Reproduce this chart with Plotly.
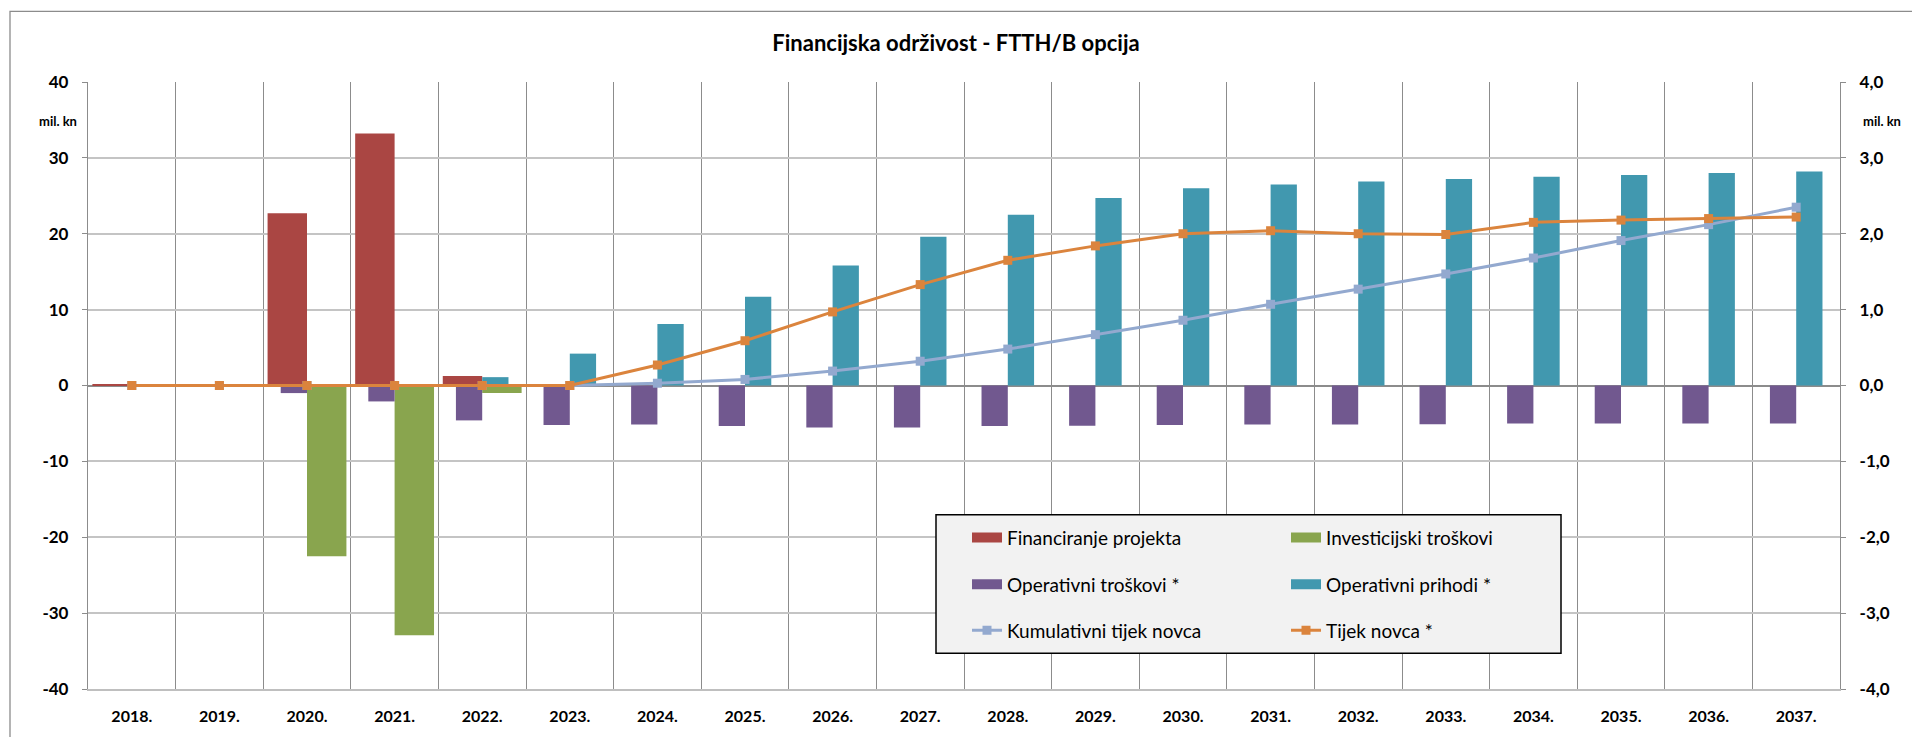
import plotly.graph_objects as go

# Years and series (mil. kn)
years = ["2018.", "2019.", "2020.", "2021.", "2022.", "2023.", "2024.", "2025.", "2026.", "2027.",
         "2028.", "2029.", "2030.", "2031.", "2032.", "2033.", "2034.", "2035.", "2036.", "2037."]

financiranje = [0.15, 0, 22.7, 33.2, 1.25, 0, 0, 0, 0, 0,
                0, 0, 0, 0, 0, 0, 0, 0, 0, 0]
investicijski = [0, 0, -22.5, -32.9, -1.0, 0, 0, 0, 0, 0,
                 0, 0, 0, 0, 0, 0, 0, 0, 0, 0]
op_troskovi = [0, 0, -1.0, -2.1, -4.6, -5.2, -5.15, -5.35, -5.55, -5.55,
               -5.35, -5.3, -5.2, -5.15, -5.15, -5.1, -5.0, -5.0, -5.0, -5.0]
op_prihodi = [0, 0, 0, 0, 1.1, 4.2, 8.1, 11.7, 15.8, 19.6,
              22.5, 24.7, 26.0, 26.5, 26.9, 27.2, 27.5, 27.75, 28.0, 28.2]
tijek_novca = [0, 0, 0, 0, 0, 0, 2.7, 5.9, 9.7, 13.3,
               16.5, 18.4, 20.0, 20.4, 20.0, 19.9, 21.5, 21.8, 22.0, 22.2]
kumulativ = [0, 0, 0, 0, 0, 0, 0.03, 0.08, 0.19, 0.32,
             0.48, 0.67, 0.86, 1.07, 1.27, 1.47, 1.68, 1.91, 2.12, 2.35]

left_ticks = [-40, -30, -20, -10, 0, 10, 20, 30, 40]
left_labels = ["-40", "-30", "-20", "-10", "0", "10", "20", "30", "40"]
right_ticks = [-4, -3, -2, -1, 0, 1, 2, 3, 4]
right_labels = ["-4,0", "-3,0", "-2,0", "-1,0", "0,0", "1,0", "2,0", "3,0", "4,0"]

RED, GREEN, PURPLE, TEAL = "#AA4643", "#89A54E", "#71588F", "#4198AF"
LIGHTBLUE, ORANGE = "#93A9CF", "#DB843D"
FONT = "Lato"

W, H = 1912, 737
L, R, T, B = 88, 72, 82, 45
PW, PH = W - L - R, H - T - B


def px_x(x):
    return (x - L) / PW


def px_y(y):
    return (H - B - y) / PH


fig = go.Figure()

# Column series: (values, name, colour, offset, width, legend row)
bar_series = [
    (financiranje, "Financiranje projekta", RED, -0.45, 0.45, "legend"),
    (investicijski, "Investicijski troškovi", GREEN, 0.0, 0.45, "legend"),
    (op_troskovi, "Operativni troškovi *", PURPLE, -0.3, 0.3, "legend2"),
    (op_prihodi, "Operativni prihodi *", TEAL, 0.0, 0.3, "legend2"),
]
for values, name, color, off, wid, leg in bar_series:
    fig.add_trace(go.Bar(x=years, y=values, name=name, legendgroup=name,
                         marker=dict(color=color, line=dict(width=0)),
                         offset=off, width=wid, showlegend=False))
    # wide flat swatch for the legend key
    fig.add_trace(go.Scatter(x=[None], y=[None], name=name, legendgroup=name,
                             mode="lines", line=dict(color=color, width=11),
                             legend=leg, hoverinfo="skip"))

# Cumulative flow on the right-hand scale
fig.add_trace(go.Scatter(x=years, y=kumulativ, name="Kumulativni tijek novca",
                         mode="lines+markers", yaxis="y2",
                         line=dict(color=LIGHTBLUE, width=3),
                         marker=dict(symbol="square", size=9, color=LIGHTBLUE),
                         legend="legend3"))
# Annual flow on the left-hand scale, drawn on top (separate overlay axis)
fig.add_trace(go.Scatter(x=years, y=tijek_novca, name="Tijek novca *",
                         mode="lines+markers", yaxis="y3",
                         line=dict(color=ORANGE, width=3),
                         marker=dict(symbol="square", size=9, color=ORANGE),
                         legend="legend3"))

legend_common = dict(orientation="h", xanchor="left", yanchor="middle",
                     bgcolor="rgba(0,0,0,0)", borderwidth=0,
                     entrywidth=274, entrywidthmode="pixels",
                     font=dict(family=FONT, size=19, color="#000000"),
                     x=px_x(967))

tick_font = dict(family=FONT, size=17, color="#000000", weight="bold")

fig.update_layout(
    width=W, height=H,
    margin=dict(l=L, r=R, t=T, b=B),
    paper_bgcolor="white", plot_bgcolor="white",
    barmode="overlay",
    font=dict(family=FONT, color="#000000"),
    title=dict(text="<b>Financijska održivost - FTTH/B opcija</b>",
               x=0.5, xanchor="center", y=1 - 43 / H, yanchor="middle",
               font=dict(family=FONT, size=22, color="#000000")),
    xaxis=dict(type="category", tickson="boundaries", showgrid=True,
               gridcolor="#8c8c8c", gridwidth=1.3,
               showline=True, linecolor="#bfbfbf", linewidth=1.5,
               ticks="", ticklabelstandoff=12,
               tickfont=dict(family=FONT, size=16, color="#000000", weight="bold"),
               range=[-0.5, 19.5]),
    yaxis=dict(range=[-40, 40], tickvals=left_ticks, ticktext=left_labels,
               showgrid=True, gridcolor="#c4c4c4", gridwidth=1.5,
               zeroline=True, zerolinecolor="#8c8c8c", zerolinewidth=1.5,
               showline=True, linecolor="#8c8c8c", linewidth=1.3,
               ticks="outside", ticklen=5, tickcolor="#8c8c8c",
               ticklabelstandoff=10, tickfont=tick_font),
    yaxis2=dict(range=[-4, 4], overlaying="y", side="right",
                tickvals=right_ticks, ticktext=right_labels, showgrid=False,
                zeroline=False,
                showline=True, linecolor="#8c8c8c", linewidth=1.3,
                ticks="outside", ticklen=5, tickcolor="#8c8c8c",
                ticklabelstandoff=10, tickfont=tick_font),
    yaxis3=dict(range=[-40, 40], overlaying="y", visible=False,
                showgrid=False, zeroline=False),
    legend=dict(legend_common, y=px_y(540)),
    legend2=dict(legend_common, y=px_y(587)),
    legend3=dict(legend_common, y=px_y(633)),
    showlegend=True,
)

# Outer chart frame and legend panel
fig.add_shape(type="rect", xref="paper", yref="paper",
              x0=px_x(10), x1=px_x(1930), y0=px_y(760), y1=px_y(11),
              line=dict(color="#8c8c8c", width=1.3), fillcolor="rgba(0,0,0,0)",
              layer="below")
fig.add_shape(type="rect", xref="paper", yref="paper",
              x0=px_x(936), x1=px_x(1561), y0=px_y(656), y1=px_y(517),
              line=dict(color="#000000", width=1.5), fillcolor="#f2f2f2",
              layer="above")

# Axis unit labels
for xpx in (58, 1882):
    fig.add_annotation(text="<b>mil. kn</b>", xref="paper", yref="paper",
                       x=px_x(xpx), y=px_y(121), xanchor="center", yanchor="middle",
                       showarrow=False, font=dict(family=FONT, size=13, color="#000000"))

fig.write_html("out.html")
